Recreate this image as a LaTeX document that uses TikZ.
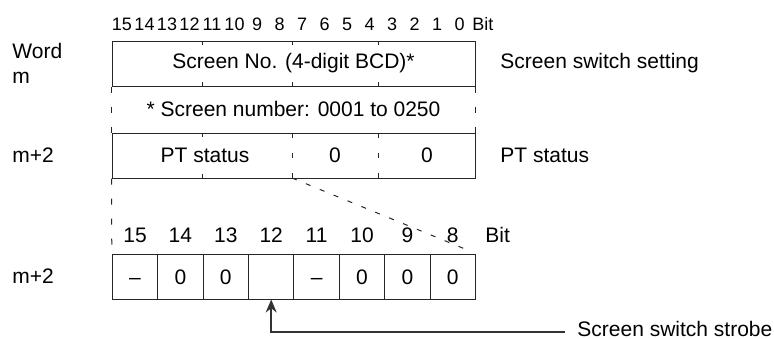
\documentclass[tikz,border=0pt]{standalone}
\usepackage{fontspec}
\setmainfont{Liberation Sans}
\usetikzlibrary{arrows.meta}

\begin{document}
\begin{tikzpicture}[
    x=0.5pt, y=-0.5pt,
    every node/.style={font=\fontsize{10.5}{12.5}\selectfont, inner sep=0pt},
    bitnum/.style={font=\fontsize{9}{11}\selectfont, anchor=base},
    bitbig/.style={anchor=base},
    wordbox/.style={rectangle, draw=black!85, line width=0.5pt, minimum width=181.5pt, minimum height=22.5pt},
    bitbox/.style={rectangle, draw=black!85, line width=0.5pt, minimum width=22.7pt, minimum height=22.5pt, text height=7.6pt, text depth=0pt},
    tick/.style={black!85, line width=0.5pt},
    divider/.style={black!85, line width=0.5pt, dash pattern=on 2.5pt off 7.5pt},
    guide/.style={black!85, line width=0.5pt, dash pattern=on 3pt off 7pt},
    slant/.style={black!85, line width=0.5pt, dash pattern=on 2.5pt off 5pt},
    arrow/.style={-{Stealth[length=6.5pt,width=5.5pt]}, black!80, line width=0.75pt},
]
\useasboundingbox (0,0) rectangle (774,338);

% bit numbers over word m
\foreach \b [count=\i from 0] in {15,14,...,0}
  \node[bitnum] (T\b) at ({122+22.5*\i},30) {\b};
\node[bitnum, anchor=base west] (TBIT) at (472,30) {Bit};

% word m and m+2
\node[anchor=west, align=left] (WORD) at (12,63.5) {Word\\m};
\node[wordbox] (SCREEN) at (293.5,63.5) {Screen No. (4-digit BCD)*};
\node[anchor=west] (SETTING) at (500,63.5) {Screen switch setting};
\node (NOTE) at (293.5,109) {* Screen number: 0001 to 0250};

\node[anchor=west] (MTWO) at (12,155.5) {m+2};
\node[wordbox] (STATUS) at (293.5,155.5) {};
\node (PTS) at (205,155.5) {PT status};
\node (ZEROA) at (335,155.5) {0};
\node (ZEROB) at (427,155.5) {0};
\node[anchor=west] (PTLBL) at (500,155.5) {PT status};

\foreach \x in {202.7,292,378.7} {
  \draw[tick] (\x,41) -- (\x,45);
  \draw[tick] (\x,86) -- (\x,82);
}
\draw[tick] (202.7,133) -- (202.7,137);
\draw[tick] (202.7,178) -- (202.7,174);
\draw[divider] (292,133) -- (292,178);
\draw[divider] (378.7,133) -- (378.7,178);

\draw[guide] (SCREEN.south west) -- (STATUS.north west);
\draw[guide] (SCREEN.south east) -- (STATUS.north east);

% bits 15 to 8 of m+2
\foreach \b/\val [count=\i from 0] in {15/\textendash, 14/0, 13/0, 12/{}, 11/\textendash, 10/0, 9/0, 8/0} {
  \node[bitbox] (B\b) at ({135+45.4*\i},276.5) {\val};
  \node[bitbig] (N\b) at ({135+45.4*\i},242) {\b};
}
\node[anchor=base west] (BBIT) at (485,242) {Bit};
\node[anchor=west] (MTWOB) at (12,276.5) {m+2};

\coordinate (SPLIT) at (292,178);
\draw[guide] (STATUS.south west) -- (B15.north west);
\draw[slant, shorten >=2.5pt] (SPLIT) -- (B8.north east);

\node[anchor=base west] (STROBE) at (577,336) {Screen switch strobe};
\draw[arrow] ([shift={(-6pt,2pt)}]STROBE.base west) -| (B12.south);
\end{tikzpicture}
\end{document}
